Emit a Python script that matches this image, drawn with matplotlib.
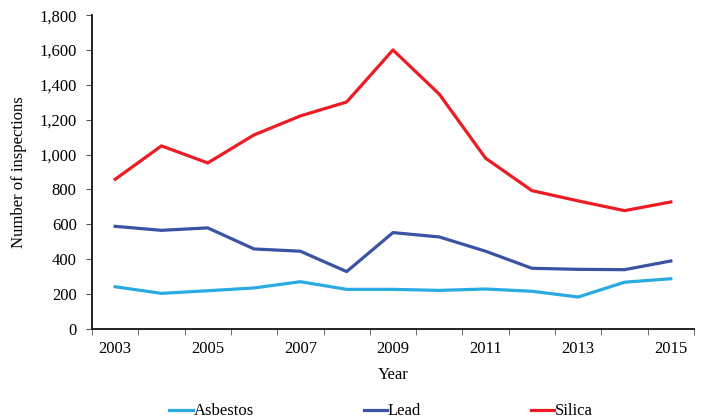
import matplotlib
matplotlib.use("Agg")
import matplotlib.pyplot as plt
from matplotlib.ticker import FuncFormatter

years = ["2003", "2004", "2005", "2006", "2007", "2008", "2009",
         "2010", "2011", "2012", "2013", "2014", "2015"]
asbestos = [241, 203, 218, 234, 270, 226, 226, 220, 228, 215, 182, 267, 287]
lead = [588, 565, 579, 458, 445, 328, 552, 527, 445, 347, 341, 339, 389]
silica = [858, 1050, 952, 1113, 1222, 1302, 1601, 1347, 979, 793, 734, 678, 728]

plt.rcParams['font.family'] = ['Liberation Serif', 'DejaVu Serif']
fs = 12

fig = plt.figure(figsize=(7.02, 4.19), dpi=100)
ax = fig.add_axes([0.131, 0.2155, 0.8576, 0.748])

x = list(range(len(years)))
ax.plot(x, asbestos, color="#29abe2", lw=2.3, label="Asbestos")
ax.plot(x, lead, color="#3a53a4", lw=2.3, label="Lead")
ax.plot(x, silica, color="#ed1c24", lw=2.3, label="Silica")

ax.set_xlim(-0.5, len(years) - 0.5)
ax.set_ylim(0, 1800)
ax.set_yticks(range(0, 1801, 200))
ax.yaxis.set_major_formatter(FuncFormatter(lambda v, p: "{:,.0f}".format(v)))

# category axis: ticks between categories, labels on every other year
ax.set_xticks(x[::2])
ax.set_xticklabels(years[::2])
ax.set_xticks([i - 0.5 for i in range(len(years) + 1)], minor=True)
ax.tick_params(axis="x", which="major", length=0, pad=9, labelsize=fs)
ax.tick_params(axis="x", which="minor", length=4, direction="out", color="#555555")
ax.tick_params(axis="y", length=4, direction="out", color="#555555", labelsize=fs, pad=7)

for s in ["top", "right"]:
    ax.spines[s].set_visible(False)
for s in ["left", "bottom"]:
    ax.spines[s].set_linewidth(1.4)
    ax.spines[s].set_color("#222222")

ax.set_xlabel("Year", fontsize=fs, labelpad=7)
ax.set_ylabel("Number of inspections", fontsize=fs, labelpad=9)

fig.legend(loc="center", bbox_to_anchor=(0.543, 0.018), ncol=3, frameon=False,
           fontsize=fs, handlelength=1.4, handletextpad=0.05, columnspacing=6.6)

fig.savefig("out.png", dpi=100)
